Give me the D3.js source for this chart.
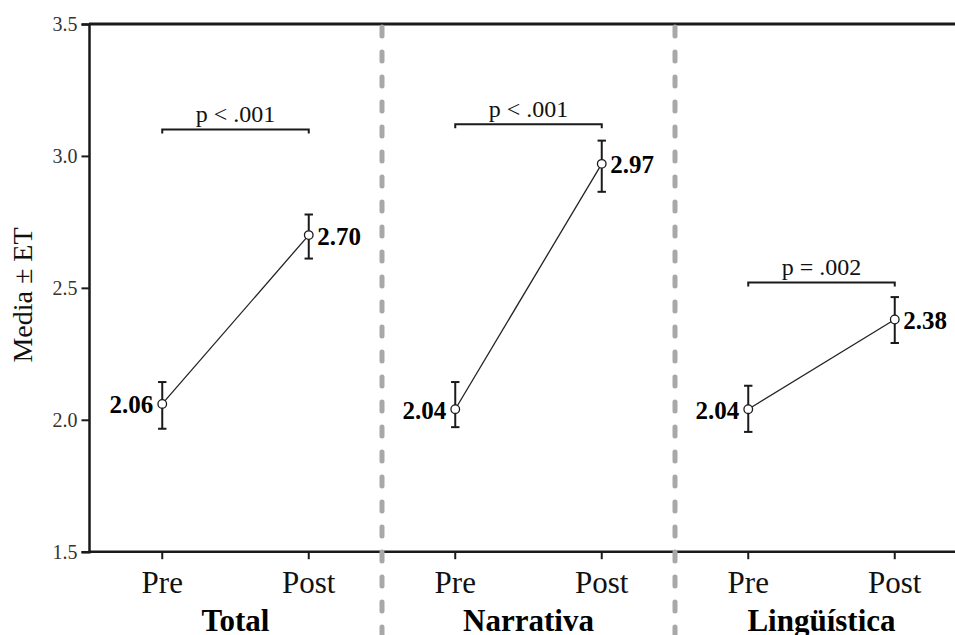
<!DOCTYPE html>
<html>
<head>
<meta charset="utf-8">
<script src="https://cdn.jsdelivr.net/npm/d3@7"></script>
<style>
  html, body { margin: 0; padding: 0; background: #fff; }
  svg { display: block; font-family: "Liberation Serif", "Times New Roman", serif; }
</style>
</head>
<body>
<svg id="chart" width="955" height="635"></svg>
<script>
// Pre/Post means with standard-error bounds for each scale
const categories = ["Total", "Narrativa", "Lingüística"];
const times = ["Pre", "Post"];
const preMeans  = [2.06, 2.04, 2.04];
const postMeans = [2.70, 2.97, 2.38];
const preLower  = [1.966, 1.972, 1.954];
const preUpper  = [2.143, 2.143, 2.129];
const postLower = [2.611, 2.864, 2.291];
const postUpper = [2.778, 3.058, 2.465];
const pLabels   = ["p < .001", "p < .001", "p = .002"];
const pBracketY = [3.10, 3.12, 2.52];
const yTicks    = [1.5, 2.0, 2.5, 3.0, 3.5];

const svg = d3.select("#chart");
const plotLeft = 89, plotTop = 24, plotBottom = 551.7, panelW = 293;

const y = d3.scaleLinear().domain([1.5, 3.5]).range([plotBottom, plotTop]);
const xPanel = d3.scaleBand().domain(categories)
  .range([plotLeft, plotLeft + panelW * categories.length]).paddingInner(0).paddingOuter(0);
const xTime = d3.scalePoint().domain(times).range([0, panelW]).padding(0.5);
const xPos = (cat, t) => xPanel(cat) + xTime(t);

const rows = categories.map((c, i) => ({
  cat: c,
  pts: [
    { t: "Pre",  m: preMeans[i],  lo: preLower[i],  hi: preUpper[i] },
    { t: "Post", m: postMeans[i], lo: postLower[i], hi: postUpper[i] }
  ],
  p: pLabels[i],
  py: pBracketY[i]
}));

// y axis
const yAxis = d3.axisLeft(y).tickValues(yTicks).tickFormat(d3.format(".1f"))
  .tickSize(7.5).tickPadding(4);
const gy = svg.append("g").attr("transform", `translate(${plotLeft},0)`).call(yAxis);
gy.select(".domain").attr("stroke", "#1a1a1a").attr("stroke-width", 2.5);
gy.selectAll(".tick line").attr("stroke", "#1a1a1a").attr("stroke-width", 2);
gy.selectAll(".tick text").attr("font-size", 20).attr("fill", "#333")
  .attr("font-family", "Liberation Serif, Times New Roman, serif");

// top frame line
svg.append("line")
  .attr("x1", plotLeft).attr("x2", 955).attr("y1", y(3.5)).attr("y2", y(3.5))
  .attr("stroke", "#1a1a1a").attr("stroke-width", 2.8);

// x axis: bottom line, ticks and Pre/Post labels
svg.append("line")
  .attr("x1", plotLeft).attr("x2", 955).attr("y1", plotBottom).attr("y2", plotBottom)
  .attr("stroke", "#1a1a1a").attr("stroke-width", 2.5);

rows.forEach(r => {
  times.forEach(t => {
    const x = xPos(r.cat, t);
    svg.append("line").attr("x1", x).attr("x2", x)
      .attr("y1", plotBottom).attr("y2", plotBottom + 7.5)
      .attr("stroke", "#1a1a1a").attr("stroke-width", 2);
    svg.append("text").attr("x", x).attr("y", 593.3)
      .attr("text-anchor", "middle").attr("font-size", 31).attr("fill", "#111")
      .text(t);
  });
  svg.append("text")
    .attr("x", xPanel(r.cat) + panelW / 2).attr("y", 630.7)
    .attr("text-anchor", "middle").attr("font-size", 31).attr("font-weight", "bold")
    .attr("fill", "#000").text(r.cat);
});

// dashed panel separators
categories.slice(1).forEach(c => {
  const x = xPanel(c);
  svg.append("line").attr("x1", x).attr("x2", x)
    .attr("y1", y(3.5) + 3).attr("y2", 640)
    .attr("stroke", "#a8a8a8").attr("stroke-width", 5)
    .attr("stroke-linecap", "round").attr("stroke-dasharray", "9 16");
});

// series per panel
const line = d3.line().x(d => d.x).y(d => y(d.m));

rows.forEach(r => {
  const g = svg.append("g");
  const pts = r.pts.map(p => ({ ...p, x: xPos(r.cat, p.t) }));

  g.append("path").datum(pts).attr("d", line)
    .attr("fill", "none").attr("stroke", "#222").attr("stroke-width", 1.3);

  pts.forEach(p => {
    g.append("line").attr("x1", p.x).attr("x2", p.x)
      .attr("y1", y(p.lo)).attr("y2", y(p.hi))
      .attr("stroke", "#1a1a1a").attr("stroke-width", 2);
    [p.lo, p.hi].forEach(v => {
      g.append("line").attr("x1", p.x - 4.2).attr("x2", p.x + 4.2)
        .attr("y1", y(v)).attr("y2", y(v))
        .attr("stroke", "#1a1a1a").attr("stroke-width", 2);
    });
    g.append("circle").attr("cx", p.x).attr("cy", y(p.m)).attr("r", 4.3)
      .attr("fill", "#fff").attr("stroke", "#1a1a1a").attr("stroke-width", 1.3);

    const isPre = p.t === "Pre";
    g.append("text")
      .attr("x", isPre ? p.x - 9 : p.x + 8.5)
      .attr("y", y(p.m) + 9.5)
      .attr("text-anchor", isPre ? "end" : "start")
      .attr("font-size", 25).attr("font-weight", "bold").attr("fill", "#000")
      .text(d3.format(".2f")(p.m));
  });

  // significance bracket
  const x0 = pts[0].x, x1 = pts[1].x, by = y(r.py);
  g.append("path")
    .attr("d", `M${x0},${by + 4}V${by}H${x1}V${by + 4}`)
    .attr("fill", "none").attr("stroke", "#1a1a1a").attr("stroke-width", 2);
  g.append("text")
    .attr("x", (x0 + x1) / 2).attr("y", by - 7.6)
    .attr("text-anchor", "middle").attr("font-size", 24).attr("fill", "#111")
    .text(r.p);
});

// y axis title
svg.append("text")
  .attr("transform", "translate(31.5,295) rotate(-90)")
  .attr("text-anchor", "middle").attr("font-size", 28).attr("fill", "#111")
  .text("Media ± ET");
</script>
</body>
</html>
